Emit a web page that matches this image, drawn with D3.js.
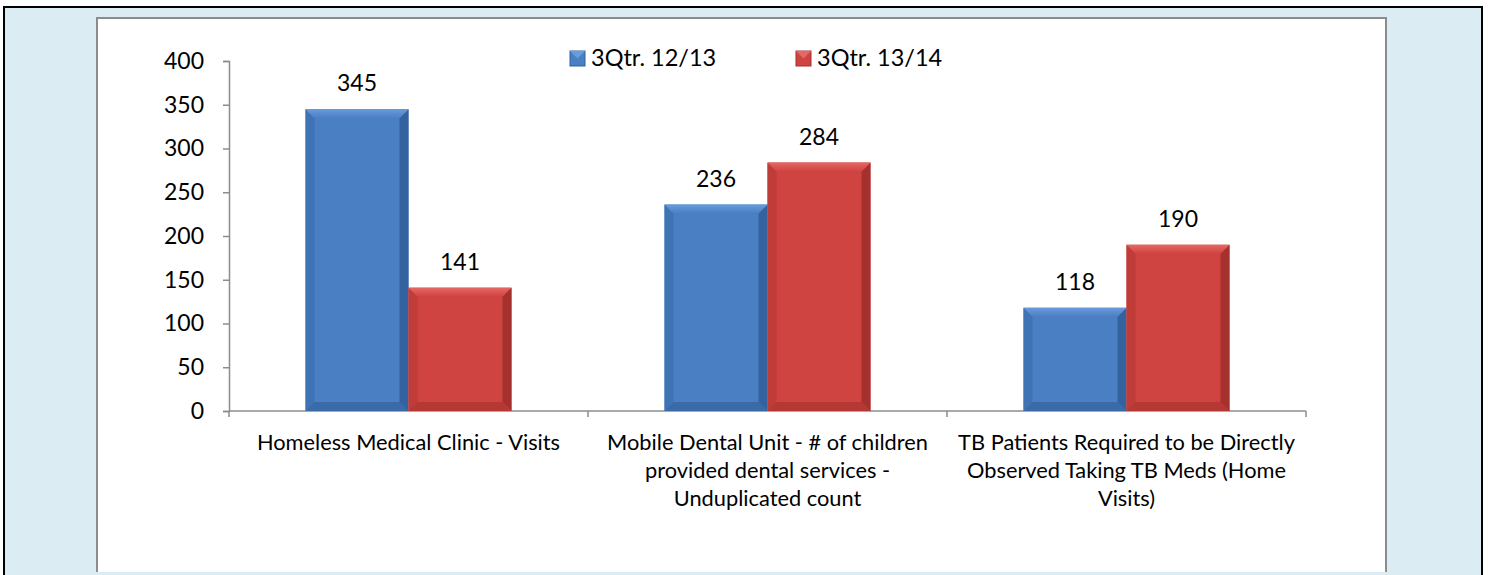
<!DOCTYPE html>
<html>
<head>
<meta charset="utf-8">
<script src="https://cdn.jsdelivr.net/npm/d3@7"></script>
<style>
  body { margin: 0; background: #fff; }
  svg { display: block; }
  text { font-family: Lato, "Open Sans", sans-serif; fill: #000; }
</style>
</head>
<body>
<div id="chart"></div>
<script>
// chart data
var categories = [
  "Homeless Medical Clinic - Visits",
  "Mobile Dental Unit - # of children provided dental services - Unduplicated count",
  "TB Patients Required to be Directly Observed Taking TB Meds (Home Visits)"
];
var categoryLines = [
  ["Homeless Medical Clinic - Visits"],
  ["Mobile Dental Unit - # of children", "provided dental services -", "Unduplicated count"],
  ["TB Patients Required to be Directly", "Observed Taking TB Meds (Home", "Visits)"]
];
var seriesNames = ["3Qtr. 12/13", "3Qtr. 13/14"];
var values1213 = [345, 236, 118];
var values1314 = [141, 284, 190];
var yTicks = [0, 50, 100, 150, 200, 250, 300, 350, 400];

var W = 1488, H = 575;
var plot = { left: 229, right: 1306, top: 61, bottom: 411 };

var colors = {
  "3Qtr. 12/13": { main: "#4a7fc4", light: "#6a9bdc", side: "#3f73b4", dark: "#33629e", bottom: "#3a6aa8" },
  "3Qtr. 13/14": { main: "#cf4340", light: "#e46864", side: "#c03c39", dark: "#a5312f", bottom: "#b53835" }
};

var svg = d3.select("#chart").append("svg")
    .attr("width", W)
    .attr("height", H);

var defs = svg.append("defs");
seriesNames.forEach(function(s, i) {
  var c = colors[s];
  var gr = defs.append("linearGradient").attr("id", "top" + i)
      .attr("x1", 0).attr("y1", 0).attr("x2", 0).attr("y2", 1);
  gr.append("stop").attr("offset", "0%").attr("stop-color", c.light);
  gr.append("stop").attr("offset", "100%").attr("stop-color", c.main);
});

// outer frame
svg.append("rect")
    .attr("x", 4).attr("y", 7)
    .attr("width", 1478).attr("height", 572)
    .attr("fill", "#dbecf2")
    .attr("stroke", "#000")
    .attr("stroke-width", 2);

// inner white panel
svg.append("rect")
    .attr("x", 97).attr("y", 18)
    .attr("width", 1289).attr("height", 554)
    .attr("fill", "#fff");
svg.append("path")
    .attr("d", "M97,572V18H1386V572")
    .attr("fill", "none")
    .attr("stroke", "#8c8c8c")
    .attr("stroke-width", 2);

// scales
var x0 = d3.scaleBand().domain(categories).range([plot.left, plot.right]).paddingInner(0).paddingOuter(0);
var x1 = d3.scaleBand().domain(seriesNames).range([0, x0.bandwidth()]).paddingInner(0).paddingOuter(0.743);
var y = d3.scaleLinear().domain([0, 400]).range([plot.bottom, plot.top]);

// y axis
var yAxis = svg.append("g")
    .attr("transform", "translate(" + plot.left + ",0)")
    .call(d3.axisLeft(y).tickValues(yTicks).tickSize(6).tickPadding(19));
yAxis.select(".domain").attr("stroke", "#8c8c8c").attr("stroke-width", 1.5);
yAxis.selectAll(".tick line").attr("stroke", "#8c8c8c").attr("stroke-width", 1.5);
yAxis.selectAll(".tick text")
    .style("font-family", "Lato, sans-serif")
    .style("font-size", "23px")
    .attr("fill", "#000");

// x axis line + ticks at category boundaries
var xg = svg.append("g");
xg.append("line")
    .attr("x1", plot.left).attr("x2", plot.right)
    .attr("y1", y(0)).attr("y2", y(0))
    .attr("stroke", "#8c8c8c").attr("stroke-width", 1.5);
var bounds = categories.map(function(c) { return x0(c); }).concat([plot.right]);
xg.selectAll(".xt").data(bounds).enter().append("line")
    .attr("x1", function(d) { return d; }).attr("x2", function(d) { return d; })
    .attr("y1", y(0)).attr("y2", y(0) + 6)
    .attr("stroke", "#8c8c8c").attr("stroke-width", 1.5);

// category labels
categories.forEach(function(c, i) {
  var t = svg.append("text")
      .attr("x", x0(c) + x0.bandwidth() / 2)
      .attr("y", 450)
      .attr("text-anchor", "middle")
      .style("font-size", "21.8px");
  categoryLines[i].forEach(function(line, j) {
    t.append("tspan")
        .attr("x", x0(c) + x0.bandwidth() / 2)
        .attr("dy", j === 0 ? 0 : 28)
        .text(line);
  });
});

// bars with a soft bevel look
var barData = [];
categories.forEach(function(c, i) {
  barData.push({ cat: c, series: seriesNames[0], value: values1213[i] });
  barData.push({ cat: c, series: seriesNames[1], value: values1314[i] });
});

var b = 9; // bevel size
var bars = svg.append("g").selectAll("g.bar").data(barData).enter().append("g");

bars.each(function(d) {
  var g = d3.select(this);
  var c = colors[d.series];
  var si = seriesNames.indexOf(d.series);
  var x = x0(d.cat) + x1(d.series), w = x1.bandwidth();
  var yt = y(d.value), yb = y(0);
  g.append("rect")
      .attr("x", x).attr("y", yt)
      .attr("width", w).attr("height", yb - yt)
      .attr("fill", c.main);
  // left bevel
  g.append("path")
      .attr("d", "M" + x + "," + yt + "L" + (x + b) + "," + (yt + b) + "V" + (yb - b) + "L" + x + "," + yb + "Z")
      .attr("fill", c.side);
  // right bevel
  g.append("path")
      .attr("d", "M" + (x + w) + "," + yt + "L" + (x + w - b) + "," + (yt + b) + "V" + (yb - b) + "L" + (x + w) + "," + yb + "Z")
      .attr("fill", c.dark);
  // bottom bevel
  g.append("path")
      .attr("d", "M" + x + "," + yb + "L" + (x + b) + "," + (yb - b) + "H" + (x + w - b) + "L" + (x + w) + "," + yb + "Z")
      .attr("fill", c.bottom);
  // top bevel
  g.append("path")
      .attr("d", "M" + x + "," + yt + "H" + (x + w) + "L" + (x + w - b) + "," + (yt + b) + "H" + (x + b) + "Z")
      .attr("fill", "url(#top" + si + ")");
  // value label
  g.append("text")
      .attr("x", x + w / 2)
      .attr("y", yt - 18)
      .attr("text-anchor", "middle")
      .style("font-size", "23px")
      .text(d.value);
});

// legend
var legX = [570, 796];
seriesNames.forEach(function(s, i) {
  var c = colors[s];
  svg.append("rect")
      .attr("x", legX[i]).attr("y", 51)
      .attr("width", 15).attr("height", 15)
      .attr("fill", c.main)
      .attr("stroke", c.dark).attr("stroke-width", 1);
  svg.append("path")
      .attr("d", "M" + legX[i] + ",51H" + (legX[i] + 15) + "L" + (legX[i] + 7.5) + ",58.5Z")
      .attr("fill", c.light);
  svg.append("text")
      .attr("x", legX[i] + 21)
      .attr("y", 66)
      .style("font-size", "23.5px")
      .text(s);
});
</script>
</body>
</html>
